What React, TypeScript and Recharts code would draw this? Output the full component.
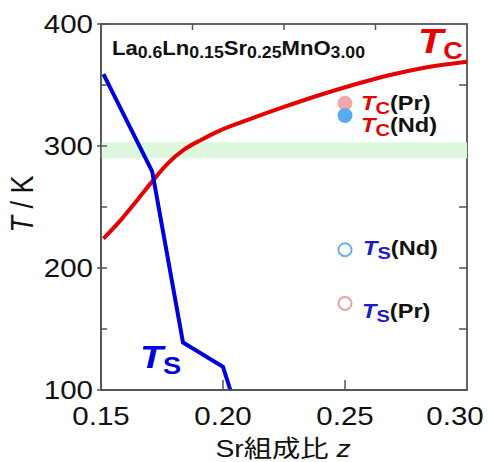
import { ComposedChart, Line, Scatter, XAxis, YAxis, ReferenceArea, Customized } from 'recharts';

// Tc curve (red)
const tcZ = [0.151, 0.158, 0.165, 0.171, 0.177, 0.184, 0.191, 0.198, 0.211, 0.225, 0.24, 0.255, 0.268, 0.282, 0.3];
const tcT = [224, 239, 256, 271, 285, 297, 305, 312, 322, 332, 342, 351, 358, 364, 369];

// Ts curve (blue)
const tsZ = [0.151, 0.171, 0.1836, 0.2, 0.203];
const tsT = [359, 279, 139, 119, 100];

// single points at z = 0.25
const tcPr = [{ z: 0.25, T: 335 }];
const tcNd = [{ z: 0.25, T: 325 }];
const tsNd = [{ z: 0.25, T: 215 }];
const tsPr = [{ z: 0.25, T: 171 }];

const xDomain = [0.15, 0.3];
const yDomain = [100, 400];
const xTicks = [0.15, 0.2, 0.25, 0.3];
const xTopTicks = [0.1875, 0.225, 0.2625];
const yTicks = [100, 150, 200, 250, 300, 350, 400];
const yRightTicks = [150, 200, 250, 300, 350];
const band = [290, 303];

const tcLine = tcZ.map((z, i) => ({ z, T: tcT[i] }));
const tsLine = tsZ.map((z, i) => ({ z, T: tsT[i] }));

const W = 488;
const H = 462;
const M = { top: 24, right: 21, bottom: 0, left: 0 };
const Y_W = 101;
const X_H = 72;
// plot box, from the chart size and margins above
const P = { l: M.left + Y_W, r: W - M.right, t: M.top, b: H - M.bottom - X_H };

const FONT = '"Liberation Sans", Arial, "Noto Sans CJK JP", sans-serif';
const SX = 1.18;
const AXIS = '#555';
const RED = '#e60000';
const BLUE = '#0000dc';
const TS_TXT = '#1c1cc4';

const Stretch = ({ x, y, anchor = 'start', children, ...rest }: any) => (
  <g transform={`translate(${x},${y}) scale(${SX},1)`}>
    <text x={0} y={0} textAnchor={anchor} fontFamily={FONT} {...rest}>
      {children}
    </text>
  </g>
);

const LeftTick = (props: any) => {
  const { x, y, payload } = props;
  const ax = x + 8;
  const major = payload.value % 100 === 0;
  return (
    <g>
      <line x1={major ? ax - 4 : ax} x2={ax + 6} y1={y} y2={y} stroke={AXIS} strokeWidth={1.5} />
      {major && (
        <Stretch x={x} y={y + 9} anchor="end" fontSize={25} fill="#111">
          {payload.value}
        </Stretch>
      )}
    </g>
  );
};

const BottomTick = (props: any) => {
  const { x, y, payload } = props;
  const inner = payload.value > 0.16 && payload.value < 0.29;
  // the last label is pulled left so it stays inside the figure
  const shift = payload.value > 0.29 ? -12 : 0;
  return (
    <g>
      {inner && <line x1={x} x2={x} y1={y - 10} y2={y} stroke={AXIS} strokeWidth={1.5} />}
      <Stretch x={x + shift} y={y + 35} anchor="middle" fontSize={25} fill="#111">
        {payload.value.toFixed(2)}
      </Stretch>
    </g>
  );
};

// top and right frame edges with their small inward ticks
const Frame = () => {
  const px = (v: number) => P.l + ((v - xDomain[0]) / (xDomain[1] - xDomain[0])) * (P.r - P.l);
  const py = (v: number) => P.b - ((v - yDomain[0]) / (yDomain[1] - yDomain[0])) * (P.b - P.t);
  return (
    <g>
      <rect x={P.l} y={P.t} width={P.r - P.l} height={P.b - P.t} fill="none" stroke={AXIS} strokeWidth={1.8} />
      {yRightTicks.map((v) => (
        <line key={`r${v}`} x1={P.r - 8} x2={P.r} y1={py(v)} y2={py(v)} stroke={AXIS} strokeWidth={1.5} />
      ))}
      {xTopTicks.map((v) => (
        <line key={`t${v}`} x1={px(v)} x2={px(v)} y1={P.t} y2={P.t + 6} stroke={AXIS} strokeWidth={1.5} />
      ))}
    </g>
  );
};

const Sub = ({ label, sub, x, y, size, subSize, color, tail, tailColor = '#111' }: any) => (
  <Stretch x={x} y={y} fontWeight="bold">
    <tspan fontStyle="italic" fontSize={size} fill={color}>{label}</tspan>
    <tspan fontSize={subSize} fill={color} dy={size * 0.18}>{sub}</tspan>
    {tail && <tspan fontSize={size} fill={tailColor} dy={-size * 0.18}>{tail}</tspan>}
  </Stretch>
);

const Annotations = () => (
  <g>
    <Frame />
    <text x={112} y={55} fontFamily={FONT} fontWeight="bold" fill="#111" fontSize={20} textLength={253} lengthAdjust="spacingAndGlyphs">
      La<tspan fontSize={16} dy={3}>0.6</tspan>
      <tspan dy={-3}>Ln</tspan><tspan fontSize={16} dy={3}>0.15</tspan>
      <tspan dy={-3}>Sr</tspan><tspan fontSize={16} dy={3}>0.25</tspan>
      <tspan dy={-3}>MnO</tspan><tspan fontSize={16} dy={3}>3.00</tspan>
    </text>
    <Sub label="T" sub="C" x={418} y={53} size={35} subSize={23} color={RED} />
    <Sub label="T" sub="S" x={140} y={368} size={32} subSize={23} color={BLUE} />
    <Sub label="T" sub="C" tail="(Pr)" x={361} y={110} size={20} subSize={17} color={RED} />
    <Sub label="T" sub="C" tail="(Nd)" x={361} y={132} size={20} subSize={17} color={RED} />
    <Sub label="T" sub="S" tail="(Nd)" x={363} y={255} size={20} subSize={17} color={TS_TXT} />
    <Sub label="T" sub="S" tail="(Pr)" x={362} y={318} size={20} subSize={17} color={TS_TXT} />
    <g transform={`translate(33,204) scale(${SX},1) rotate(-90)`}>
      <text x={0} y={0} textAnchor="middle" fontFamily={FONT} fontSize={27} fill="#111">
        <tspan fontStyle="italic">T</tspan> / K
      </text>
    </g>
    <Stretch x={283} y={457} anchor="middle" fontSize={24} fill="#111">
      Sr組成比 <tspan fontStyle="italic">z</tspan>
    </Stretch>
  </g>
);

const dot = (fill: string) => (p: any) => <circle cx={p.cx} cy={p.cy} r={7.5} fill={fill} />;
const ring = (stroke: string) => (p: any) => (
  <circle cx={p.cx} cy={p.cy} r={6.5} fill="none" stroke={stroke} strokeWidth={2} />
);

export default function App() {
  return (
    <div style={{ position: 'absolute', left: 0, top: 0, background: '#fff' }}>
      <ComposedChart width={W} height={H} margin={M}>
        <XAxis
          dataKey="z"
          type="number"
          domain={xDomain}
          ticks={xTicks}
          height={X_H}
          tickSize={0}
          tickMargin={0}
          tickLine={false}
          axisLine={{ stroke: AXIS, strokeWidth: 1.5 }}
          tick={<BottomTick />}
          allowDataOverflow
        />
        <YAxis
          type="number"
          domain={yDomain}
          ticks={yTicks}
          width={Y_W}
          tickSize={0}
          tickMargin={8}
          tickLine={false}
          axisLine={{ stroke: AXIS, strokeWidth: 1.5 }}
          tick={<LeftTick />}
          allowDataOverflow
        />
        <ReferenceArea y1={band[0]} y2={band[1]} fill="#ddf8dd" fillOpacity={1} stroke="none" />
        <Line data={tcLine} dataKey="T" type="monotone" stroke={RED} strokeWidth={4} dot={false} isAnimationActive={false} />
        <Line data={tsLine} dataKey="T" type="linear" stroke={BLUE} strokeWidth={4} dot={false} isAnimationActive={false} />
        <Scatter data={tcPr} dataKey="T" shape={dot('#f3a7ad')} isAnimationActive={false} />
        <Scatter data={tcNd} dataKey="T" shape={dot('#5aaaee')} isAnimationActive={false} />
        <Scatter data={tsNd} dataKey="T" shape={ring('#6db1e6')} isAnimationActive={false} />
        <Scatter data={tsPr} dataKey="T" shape={ring('#e9a3a7')} isAnimationActive={false} />
        <Customized component={Annotations} />
      </ComposedChart>
    </div>
  );
}
